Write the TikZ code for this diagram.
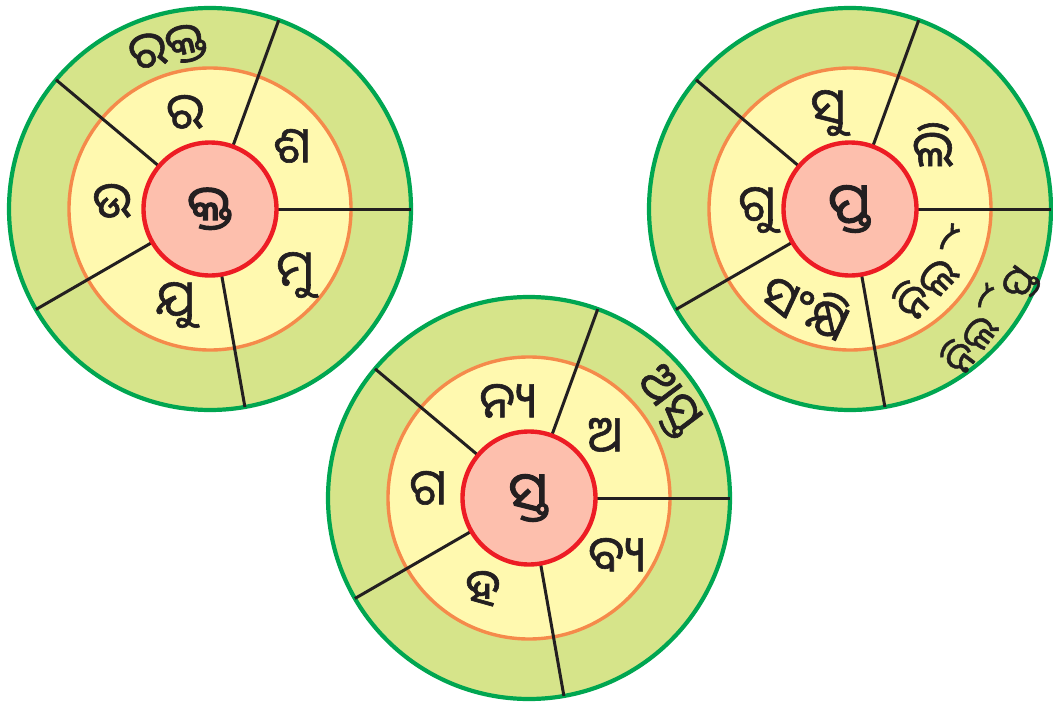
\documentclass[tikz,border=0pt]{standalone}
\usepackage{fontspec}
\newfontfamily\oriya[Script=Oriya,FakeBold=1.2]{Noto Sans Oriya UI}
\newfontfamily\oriyabold[Script=Oriya,AutoFakeBold=2]{Noto Sans Oriya UI}
\definecolor{ringgreen}{HTML}{D6E48A}
\definecolor{edgegreen}{HTML}{00A651}
\definecolor{ringyellow}{HTML}{FFF9AF}
\definecolor{edgeorange}{HTML}{F58A4B}
\definecolor{corepink}{HTML}{FDBFAD}
\definecolor{edgered}{HTML}{ED1C24}
\definecolor{ink}{HTML}{231F20}
\tikzset{
  outerring/.style={circle,inner sep=0pt,outer sep=0pt,minimum size=402pt,fill=ringgreen,draw=edgegreen,line width=4.2pt},
  innerring/.style={circle,inner sep=0pt,outer sep=0pt,minimum size=282pt,fill=ringyellow,draw=edgeorange,line width=3.4pt},
  core/.style={circle,inner sep=0pt,outer sep=0pt,minimum size=133pt,fill=corepink,draw=edgered,line width=4.4pt},
  divider/.style={draw=ink,line width=3pt},
  syl/.style={font=\oriya\fontsize{50}{50}\selectfont,text=ink,inner sep=0pt},
  sylsmall/.style={font=\oriya\fontsize{44}{44}\selectfont,text=ink,inner sep=0pt},
  sylouter/.style={font=\oriya\fontsize{40}{40}\selectfont,text=ink,inner sep=0pt},
  coretext/.style={font=\oriyabold\bfseries\fontsize{56}{56}\selectfont,text=ink,inner sep=0pt},
}
\begin{document}
\begin{tikzpicture}[x=1pt,y=-1pt]
\useasboundingbox (0,0) rectangle (1053,704);
% wheel 1
\node[outerring] (o1) at (210,209) {};
\node[innerring] (m1) at (210,209) {};
\foreach \a in {70,0,-80,210,140}{\draw[divider] (o1.\a) -- (o1.center);}
\node[core] (c1) at (210,209) {};
\node[coretext] (t1) at (c1) {କ୍ତ};
% wheel 2
\node[outerring] (o2) at (850,209) {};
\node[innerring] (m2) at (850,209) {};
\foreach \a in {70,0,-80,210,140}{\draw[divider] (o2.\a) -- (o2.center);}
\node[core] (c2) at (850,209) {};
\node[coretext] (t2) at (c2) {ପ୍ତ};
% wheel 3
\node[outerring] (o3) at (529,498) {};
\node[innerring] (m3) at (529,498) {};
\foreach \a in {70,0,-80,210,140}{\draw[divider] (o3.\a) -- (o3.center);}
\node[core] (c3) at (529,498) {};
\node[coretext] (t3) at (c3) {ସ୍ତ};
% wheel 1 labels
\node[syl] (a1) at (185,114) {ର};
\node[syl] (a2) at (292,148) {ଶ};
\node[syl] (a3) at (295,275) {ମୁ};
\node[syl] (a4) at (175,305) {ଯୁ};
\node[syl] (a5) at (112,203) {ଉ};
\node[syl,rotate=13] (a6) at (168,48) {ରକ୍ତ};
% wheel 2 labels
\node[syl] (b1) at (828,113) {ସୁ};
\node[syl] (b2) at (933,147) {ଲି};
\node[sylsmall,rotate=46] (b3) at (936,273) {ନିର୍ଲି};
\node[syl,rotate=-25] (b4) at (806,306) {ସଂକ୍ଷି};
\node[syl] (b5) at (757,210) {ଗୁ};
\node[sylouter,rotate=53] (b6) at (988,318) {ନିର୍ଲିପ୍ତ};
% wheel 3 labels
\node[syl] (d1) at (508,403) {ନ୍ୟ};
\node[syl] (d2) at (605,437) {ଅ};
\node[syl] (d3) at (617,557) {ବ୍ୟ};
\node[syl] (d4) at (483,590) {ହ};
\node[syl] (d5) at (428,490) {ଗ};
\node[syl,rotate=-53] (d6) at (668,402) {ଅସ୍ତ};
\end{tikzpicture}
\end{document}
